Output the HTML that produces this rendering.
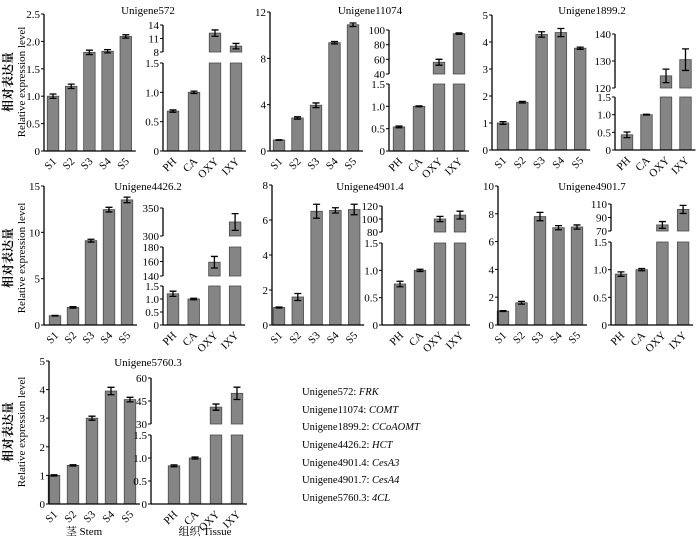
<!DOCTYPE html>
<html><head><meta charset="utf-8">
<style>
html,body{margin:0;padding:0;background:#fff;}
svg{display:block;font-family:"Liberation Serif","Noto Serif CJK SC",serif;}
</style></head>
<body>
<svg id="chart" width="700" height="539" viewBox="0 0 700 539" xmlns="http://www.w3.org/2000/svg">
<text font-size="12" font-weight="bold" text-anchor="middle" transform="translate(12,82) rotate(-90)" font-family="Noto Serif CJK SC, serif">相对表达量</text>
<text font-size="11" text-anchor="middle" transform="translate(25,82) rotate(-90)">Relative expression level</text>
<text font-size="12" font-weight="bold" text-anchor="middle" transform="translate(12,258) rotate(-90)" font-family="Noto Serif CJK SC, serif">相对表达量</text>
<text font-size="11" text-anchor="middle" transform="translate(25,258) rotate(-90)">Relative expression level</text>
<text font-size="12" font-weight="bold" text-anchor="middle" transform="translate(12,432) rotate(-90)" font-family="Noto Serif CJK SC, serif">相对表达量</text>
<text font-size="11" text-anchor="middle" transform="translate(25,432) rotate(-90)">Relative expression level</text>
<text x="84" y="535" font-size="11" text-anchor="middle">茎 Stem</text>
<text x="205" y="535" font-size="11" text-anchor="middle">组织 Tissue</text>
<g font-size="10.5">
<text x="302" y="395">Unigene572: <tspan font-style="italic">FRK</tspan></text>
<text x="302" y="413">Unigene11074: <tspan font-style="italic">COMT</tspan></text>
<text x="302" y="430">Unigene1899.2: <tspan font-style="italic">CCoAOMT</tspan></text>
<text x="302" y="448">Unigene4426.2: <tspan font-style="italic">HCT</tspan></text>
<text x="302" y="466">Unigene4901.4: <tspan font-style="italic">CesA3</tspan></text>
<text x="302" y="483">Unigene4901.7: <tspan font-style="italic">CesA4</tspan></text>
<text x="302" y="501">Unigene5760.3: <tspan font-style="italic">4CL</tspan></text>
</g>
</svg>
<script>
const genes=["Unigene572","Unigene11074","Unigene1899.2","Unigene4426.2","Unigene4901.4","Unigene4901.7","Unigene5760.3"];
const stemCategories=["S1","S2","S3","S4","S5"];
const tissueCategories=["PH","CA","OXY","IXY"];
const stemValues=[[1.0,1.18,1.8,1.82,2.09],[0.95,2.85,3.95,9.35,10.9],[1.0,1.77,4.28,4.35,3.77],[1.0,1.9,9.1,12.45,13.5],[1.0,1.6,6.5,6.55,6.6],[1.0,1.6,7.8,7.0,7.05],[1.0,1.35,3.0,3.95,3.65]];
const stemErrors=[[0.04,0.04,0.04,0.03,0.03],[0.02,0.1,0.2,0.1,0.15],[0.05,0.03,0.1,0.15,0.04],[0.03,0.08,0.15,0.25,0.3],[0.03,0.2,0.4,0.15,0.3],[0.03,0.1,0.3,0.15,0.15],[0.02,0.02,0.07,0.13,0.08]];
const tissueValues=[[0.68,1.0,12.2,9.3],[0.54,1.0,56,95],[0.43,1.0,124.5,130.5],[1.2,1.0,159,325],[0.75,1.0,100,106],[0.92,1.0,79,102],[0.83,1.0,41,50]];
const tissueErrors=[[0.02,0.02,0.7,0.6],[0.02,0.01,4,1],[0.08,0.01,2.5,4],[0.1,0.03,8,15],[0.05,0.02,4,6],[0.04,0.02,5,6],[0.02,0.02,2,4]];
const stemTicks=[[0,0.5,1,1.5,2,2.5],[0,4,8,12],[0,1,2,3,4,5],[0,5,10,15],[0,2,4,6,8],[0,2,4,6,8,10],[0,1,2,3,4,5]];
const stemTickLabels=[["0","0.5","1.0","1.5","2.0","2.5"],["0","4","8","12"],["0","1","2","3","4","5"],["0","5","10","15"],["0","2","4","6","8"],["0","2","4","6","8","10"],["0","1","2","3","4","5"]];
const lowerTicks=[0,0.5,1,1.5];
const lowerTickLabels=["0","0.5","1.0","1.5"];
const upperTicks=[[[8,11,14]],[[40,60,80,100]],[[120,130,140]],[[140,160,180],[300,350]],[[80,100,120]],[[70,90,110]],[[30,45,60]]];

const layout=[
 {tx:148,ty:14,sAx:44,s0:53,sd:18.2,sTop:14,z:151,tAx:163,t0:173,td:21,lowTop:63,up:[[8,14,52,25]]},
 {tx:370,ty:14,sAx:270,s0:279,sd:18.5,sTop:12,z:151,tAx:389,t0:399,td:20,lowTop:84,up:[[40,100,74,30]]},
 {tx:592,ty:14,sAx:492,s0:503,sd:19.3,sTop:15,z:150,tAx:615,t0:627,td:19.5,lowTop:97,up:[[120,140,88,34]]},
 {tx:148,ty:190,sAx:44,s0:55,sd:18,sTop:186,z:325,tAx:163,t0:173,td:20.7,lowTop:286,up:[[140,180,276,247],[300,350,236,208]]},
 {tx:370,ty:190,sAx:272,s0:279,sd:18.8,sTop:185,z:325,tAx:382,t0:400,td:20,lowTop:243,up:[[80,120,232,206]]},
 {tx:592,ty:190,sAx:498,s0:503,sd:18.5,sTop:186,z:325,tAx:611,t0:621,td:20.7,lowTop:242,up:[[70,110,231,204]]},
 {tx:148,ty:366,sAx:49,s0:54,sd:19,sTop:361,z:504,tAx:151,t0:174,td:21,lowTop:435,up:[[30,60,424,378]]}
];
const NS="http://www.w3.org/2000/svg";
const svg=document.getElementById('chart');
function mk(tag,attrs,parent){const e=document.createElementNS(NS,tag);for(const k in attrs)e.setAttribute(k,attrs[k]);parent.appendChild(e);return e;}
const BW=11.5,FILL="#858585",STROKE="#4a4a4a";
function bar(g,cx,y1,y2,name){
  const r=mk('rect',{x:cx-BW/2,y:Math.min(y1,y2),width:BW,height:Math.abs(y2-y1),fill:FILL,stroke:STROKE,'stroke-width':0.8},g);
  
  
}
function err(g,cx,yHi,yLo,name){
  const e=mk('path',{d:`M${cx},${yHi}V${yLo}M${cx-3.5},${yHi}H${cx+3.5}M${cx-3.5},${yLo}H${cx+3.5}`,stroke:'#000','stroke-width':1.3,fill:'none'},g);
  
  
}
function xlabel(g,x,y,t,name){
  const e=mk('text',{x:0,y:0,'font-size':11,'text-anchor':'end',transform:`translate(${x+4},${y+7}) rotate(-45)`},g);
  e.textContent=t;
  
  
}
function ytick(g,ax,y,t){
  mk('line',{x1:ax-3,x2:ax,y1:y,y2:y,stroke:'#000','stroke-width':1},g);
  const e=mk('text',{x:ax-4,y:y+4,'font-size':11,'text-anchor':'end'},g);
  e.textContent=t;
  
  
}
genes.forEach((gene,p)=>{
  const L=layout[p];
  const g=mk('g',{},svg);
  
  
  const t=mk('text',{x:L.tx,y:L.ty,'font-size':11,'text-anchor':'middle'},g);
  t.textContent=gene;
  
  
  const ticks=stemTicks[p],smax=ticks[ticks.length-1];
  const ys=v=>L.z-(v/smax)*(L.z-L.sTop);
  stemCategories.forEach((c,i)=>{
    const cx=L.s0+i*L.sd,v=stemValues[p][i],e=stemErrors[p][i];
    bar(g,cx,L.z,ys(v),'bar-stem-'+c.toLowerCase());
    err(g,cx,ys(v+e),ys(Math.max(0,v-e)),'error-bar-stem-'+c.toLowerCase());
    xlabel(g,cx,L.z+4,c,'x-tick-label-'+c.toLowerCase());
  });
  mk('line',{x1:L.sAx,x2:L.sAx,y1:L.sTop,y2:L.z,stroke:'#000','stroke-width':1.3},g);
  mk('line',{x1:L.sAx,x2:L.s0+4*L.sd+10,y1:L.z,y2:L.z,stroke:'#000','stroke-width':1.3},g);
  ticks.forEach((v,i)=>ytick(g,L.sAx,ys(v),stemTickLabels[p][i]));
  const segs=[[0,1.5,L.z,L.lowTop]].concat(L.up);
  const segY=(s,v)=>s[2]-(v-s[0])/(s[1]-s[0])*(s[2]-s[3]);
  tissueCategories.forEach((c,i)=>{
    const cx=L.t0+i*L.td,v=tissueValues[p][i],e=tissueErrors[p][i];
    segs.forEach((s,k)=>{
      if(v>s[0]){
        const top=Math.min(v,s[1]);
        bar(g,cx,s[2],segY(s,top),'bar-tissue-'+c.toLowerCase()+'-seg'+k);
        if(v<=s[1]) err(g,cx,segY(s,Math.min(v+e,s[1]+(s[1]-s[0])*0.05)),segY(s,Math.max(s[0],v-e)),'error-bar-tissue-'+c.toLowerCase());
      }
    });
    xlabel(g,cx,L.z+4,c,'x-tick-label-'+c.toLowerCase());
  });
  segs.forEach((s,k)=>{
    mk('line',{x1:L.tAx,x2:L.tAx,y1:s[3],y2:s[2],stroke:'#000','stroke-width':1.3},g);
    if(k===0){lowerTicks.forEach((v,i)=>ytick(g,L.tAx,segY(s,v),lowerTickLabels[i]));}
    else{upperTicks[p][k-1].forEach(v=>ytick(g,L.tAx,segY(s,v),String(v)));}
  });
  mk('line',{x1:L.tAx,x2:L.t0+3*L.td+10,y1:L.z,y2:L.z,stroke:'#000','stroke-width':1.3},g);
});
</script>
</body></html>
